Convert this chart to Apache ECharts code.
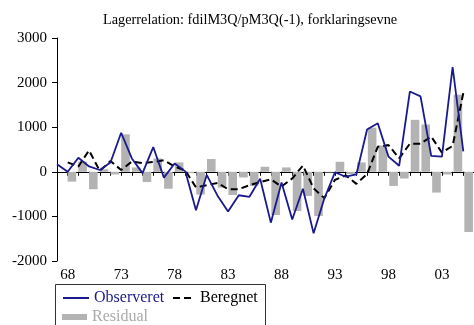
<!DOCTYPE html>
<html><head><meta charset="utf-8">
<script src="https://cdn.jsdelivr.net/npm/echarts@6/dist/echarts.min.js"></script>
<style>html,body{margin:0;padding:0;background:#fff}#c{width:474px;height:325px}</style>
</head><body><div id="c"></div>
<script>
const years = ['1967','1968','1969','1970','1971','1972','1973','1974','1975','1976','1977','1978','1979',
  '1980','1981','1982','1983','1984','1985','1986','1987','1988','1989','1990','1991','1992','1993','1994',
  '1995','1996','1997','1998','1999','2000','2001','2002','2003','2004','2005'];
const observeret = [170,0,315,120,40,210,875,300,-30,555,-130,185,10,-860,-70,-530,-890,-526,-560,-155,
  -1140,-240,-1070,-380,-1380,-600,-10,-110,-60,950,1090,340,135,1800,1690,355,340,2350,460];
const beregnet = [null,210,120,480,20,240,40,230,195,220,260,120,30,-350,-300,-250,-390,-390,-300,-230,
  -170,-330,-150,140,-370,-590,-180,-80,-270,-50,560,600,300,630,630,790,430,580,1770];
const residual = [null,-220,230,-390,55,-60,840,98,-230,300,-380,210,-30,-510,286,-353,-519,-128,-316,113,
  -970,98,-880,-541,-992,-15,225,-50,210,990,590,-316,-150,1165,1060,-466,-60,1730,-1350];
const yMin = -2000, yMax = 3000, yStep = 1000;
const titleText = 'Lagerrelation: fdilM3Q/pM3Q(-1), forklaringsevne';

const FONT = 'Liberation Serif';
const BLUE = '#1a1a8e';
const GRAY = '#b3b3b3';
const lineCats = years.concat(['']);

const chart = echarts.init(document.getElementById('c'), null, {renderer: 'canvas'});
chart.setOption({
  animation: false,
  backgroundColor: '#fff',
  textStyle: {fontFamily: FONT},
  title: {text: titleText, left: 103, top: 13, padding: 0,
    textStyle: {fontFamily: FONT, fontSize: 14.3, fontWeight: 'normal', color: '#000'}},
  grid: [
    {left: 57, top: 38, height: 223, width: 421.2},
    {left: 55.8, top: 38, height: 223, width: 421.2}
  ],
  xAxis: [
    {type: 'category', gridIndex: 0, data: lineCats, boundaryGap: false,
      axisLine: {lineStyle: {color: '#000', width: 1}},
      axisTick: {interval: 0, length: 4, lineStyle: {color: '#000'}},
      axisLabel: {interval: (i) => i % 5 === 1, formatter: (v) => v.slice(2), margin: 7,
        fontFamily: FONT, fontSize: 15, color: '#000'},
      splitLine: {show: false}},
    {type: 'category', gridIndex: 1, data: years, boundaryGap: true, show: false}
  ],
  yAxis: [
    {type: 'value', gridIndex: 0, min: yMin, max: yMax, interval: yStep,
      axisLine: {show: true, lineStyle: {color: '#000', width: 1}},
      axisTick: {show: true, length: 5, lineStyle: {color: '#000'}},
      axisLabel: {margin: 10, fontFamily: FONT, fontSize: 15, color: '#000', formatter: (v) => String(v)},
      splitLine: {show: false}},
    {type: 'value', gridIndex: 1, min: yMin, max: yMax, interval: yStep, show: false,
      splitLine: {show: false}}
  ],
  legend: [
    {left: 62, top: 290, padding: 0, itemWidth: 26, itemHeight: 14, data: [{name: 'Observeret', textStyle: {color: BLUE}}],
      itemStyle: {opacity: 0}, textStyle: {fontFamily: FONT, fontSize: 16}, selectedMode: false},
    {left: 172, top: 290, padding: 0, itemWidth: 22, itemHeight: 14, data: [{name: 'Beregnet', textStyle: {color: '#000'}}],
      itemStyle: {opacity: 0}, textStyle: {fontFamily: FONT, fontSize: 16}, selectedMode: false},
    {left: 62, top: 309, padding: 0, itemWidth: 25, itemHeight: 6, icon: 'rect',
      data: [{name: 'Residual', textStyle: {color: '#aaaaaa'}}],
      textStyle: {fontFamily: FONT, fontSize: 16}, selectedMode: false}
  ],
  graphic: [
    {type: 'rect', shape: {x: 55.5, y: 284.5, width: 210, height: 60}, silent: true,
      style: {fill: 'none', stroke: '#333', lineWidth: 1}}
  ],
  series: [
    {name: 'Residual', type: 'bar', xAxisIndex: 1, yAxisIndex: 1, data: residual,
      barWidth: 8.6, itemStyle: {color: GRAY}},
    {name: 'Observeret', type: 'line', xAxisIndex: 0, yAxisIndex: 0, data: observeret,
      symbol: 'none', lineStyle: {color: BLUE, width: 1.8}, itemStyle: {color: BLUE}, z: 4},
    {name: 'Beregnet', type: 'line', xAxisIndex: 0, yAxisIndex: 0, data: beregnet,
      symbol: 'none', lineStyle: {color: '#000', width: 2, type: [7, 4]}, itemStyle: {color: '#000'}, z: 3}
  ]
});
</script></body></html>
